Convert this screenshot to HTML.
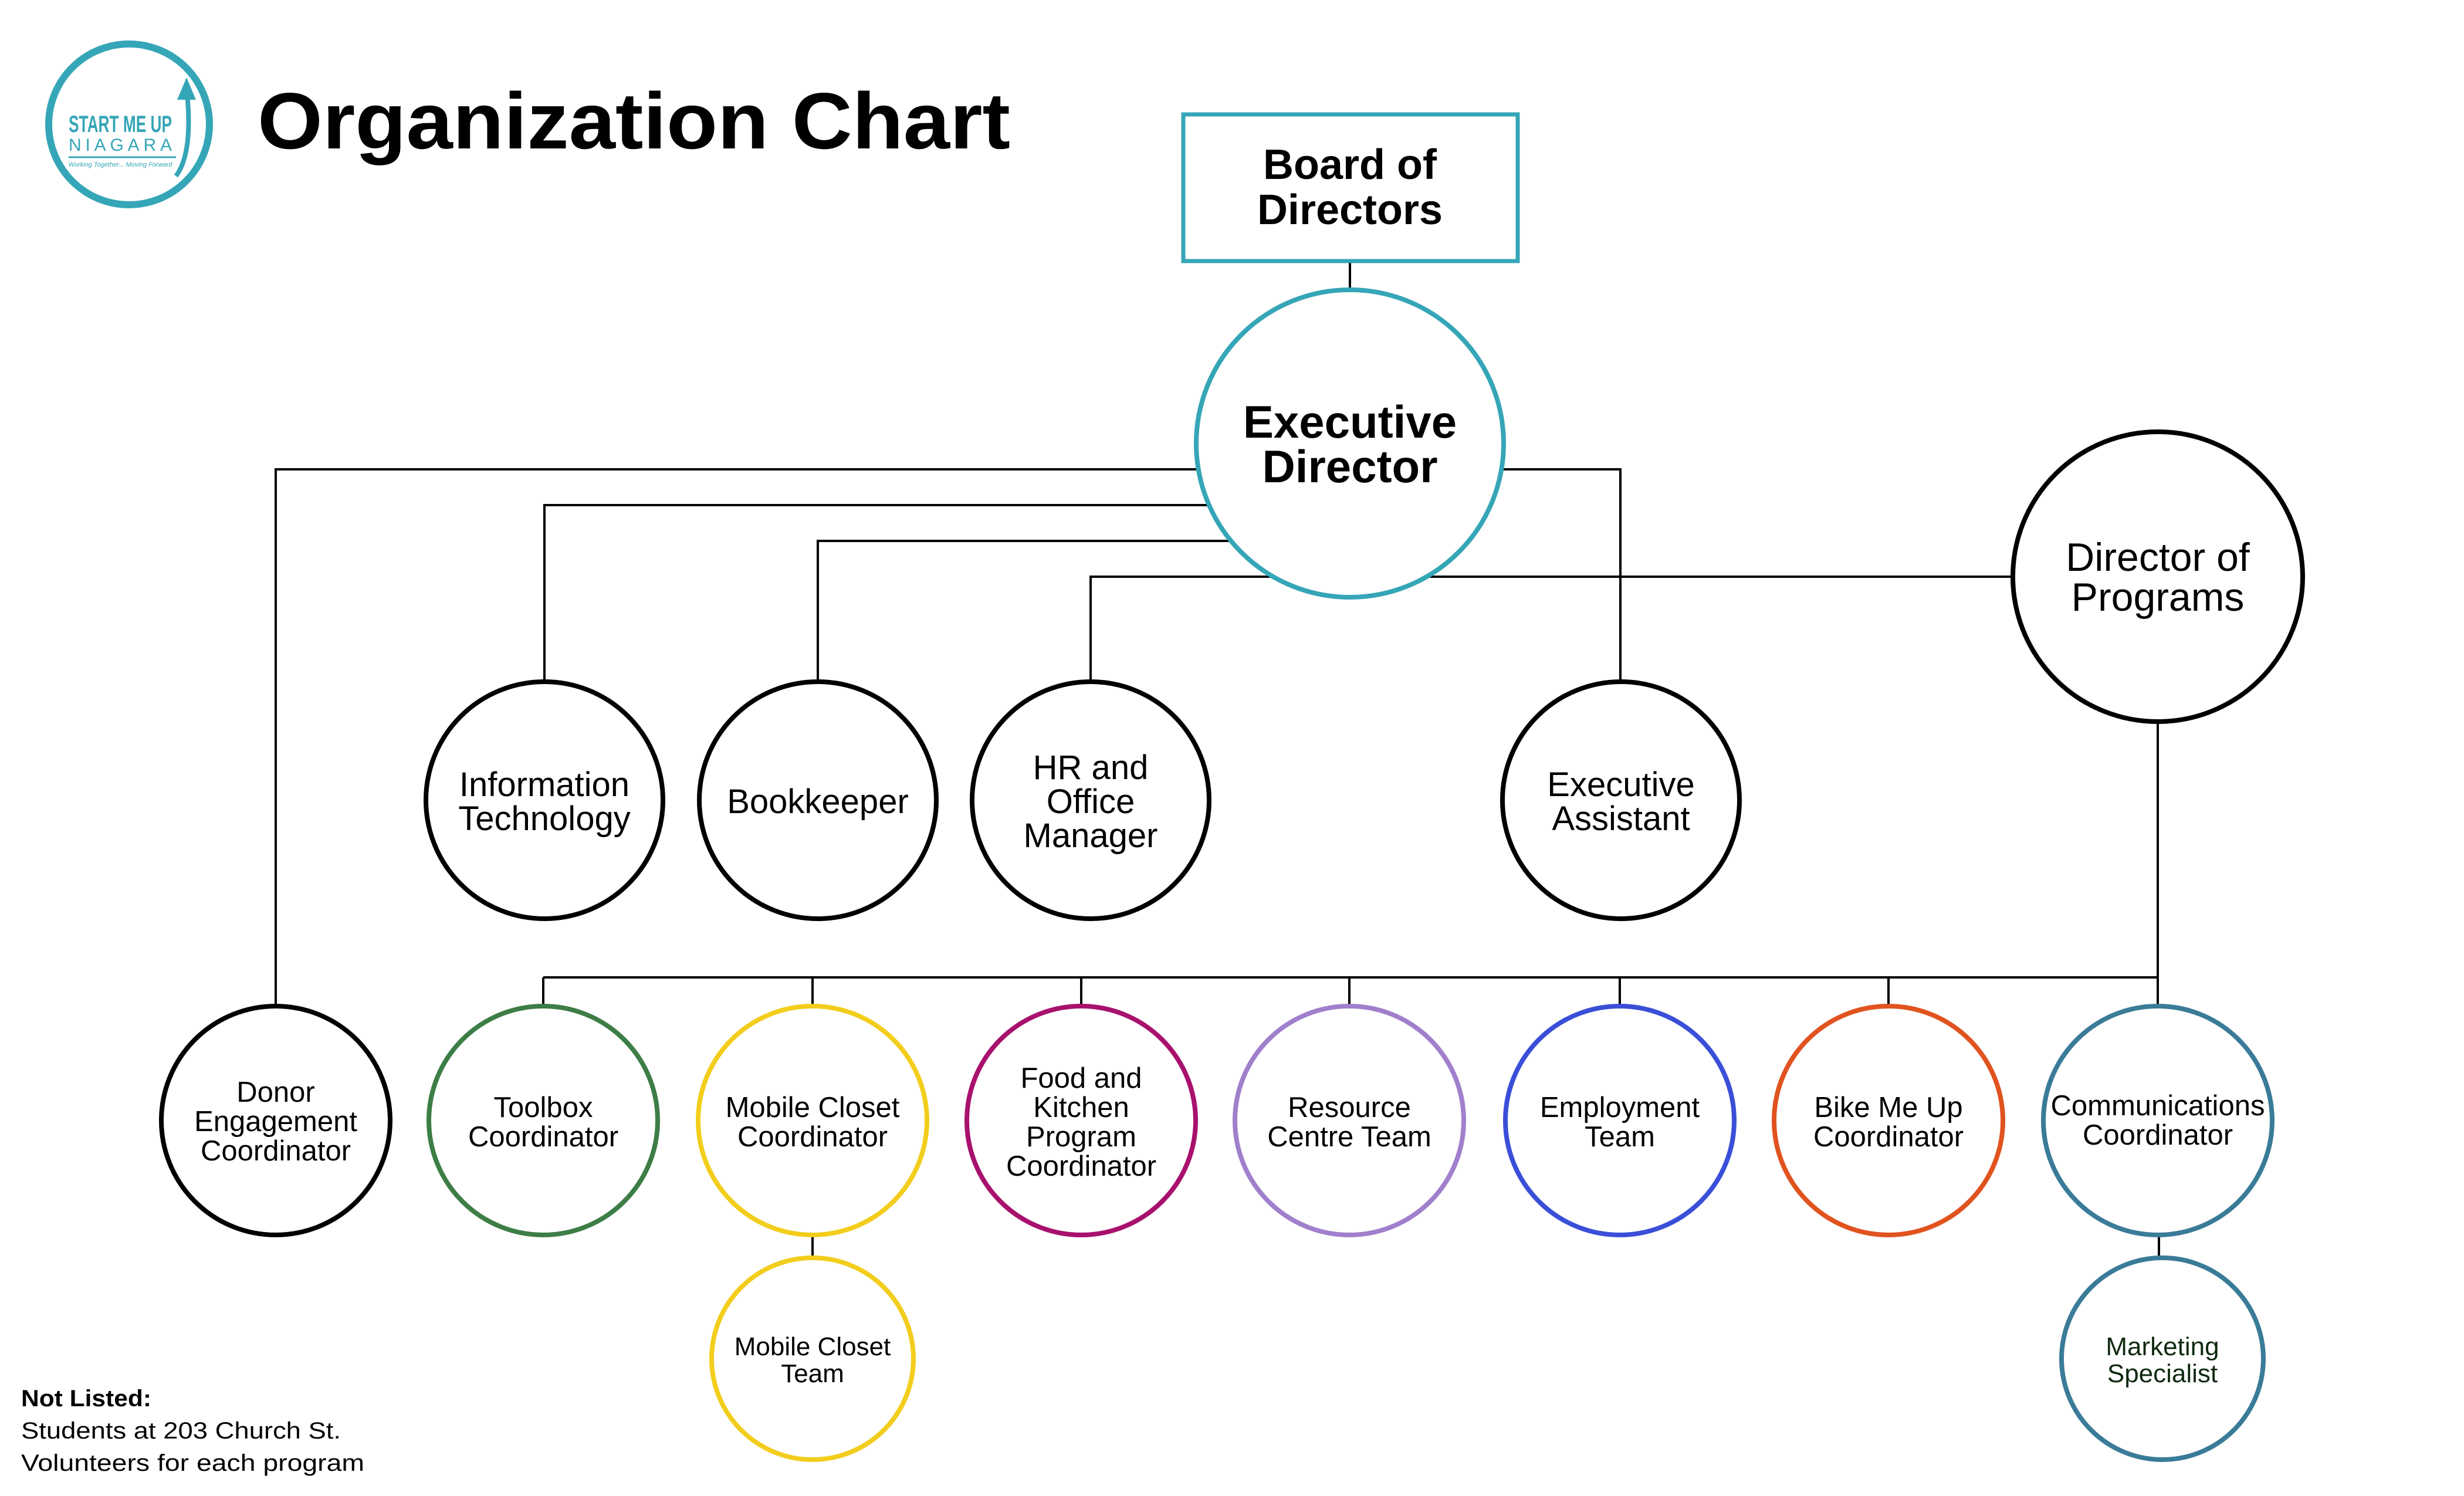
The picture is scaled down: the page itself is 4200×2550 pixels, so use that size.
<!DOCTYPE html>
<html><head><meta charset="utf-8"><style>
html,body{margin:0;padding:0;background:#fff;}
svg{display:block;}
text{font-family:"Liberation Sans",sans-serif;fill:#000;text-anchor:middle;}
</style></head><body>
<svg width="4200" height="2550" viewBox="0 0 4200 2550" xmlns="http://www.w3.org/2000/svg">
<circle cx="220" cy="212" r="137" fill="none" stroke="#35a6b7" stroke-width="12"/>
<path d="M300 300 Q330 260 318 150" fill="none" stroke="#35a6b7" stroke-width="8"/>
<polygon points="318,132 302,170 334,170" fill="#35a6b7"/>
<text x="205" y="225" font-size="40" font-weight="bold" style="fill:#35a6b7" textLength="176" lengthAdjust="spacingAndGlyphs">START ME UP</text>
<text x="205" y="257" font-size="30" style="fill:#35a6b7" textLength="176" lengthAdjust="spacing">NIAGARA</text>
<line x1="117" y1="268" x2="300" y2="268" stroke="#35a6b7" stroke-width="3"/>
<text x="205" y="284" font-size="11" font-style="italic" style="fill:#35a6b7">Working Together... Moving Forward</text>
<text x="439" y="253" font-size="136" font-weight="bold" style="text-anchor:start" textLength="1283" lengthAdjust="spacingAndGlyphs">Organization Chart</text>

<g stroke="#000" stroke-width="4" fill="none">
<line x1="2301" y1="447" x2="2301" y2="500"/>
<polyline points="2301,800 470,800 470,1713"/>
<polyline points="2301,861 928,861 928,1160"/>
<polyline points="2301,922 1394,922 1394,1160"/>
<polyline points="2301,983 1859,983 1859,1160"/>
<line x1="1859" y1="983" x2="3431" y2="983"/>
<polyline points="2301,800 2762,800 2762,1160"/>
<polyline points="3678,1231 3678,1713"/>
<line x1="926" y1="1666" x2="3678" y2="1666"/>
<line x1="926" y1="1666" x2="926" y2="1713"/>
<line x1="1385" y1="1666" x2="1385" y2="1713"/>
<line x1="1843" y1="1666" x2="1843" y2="1713"/>
<line x1="2300" y1="1666" x2="2300" y2="1713"/>
<line x1="2761" y1="1666" x2="2761" y2="1713"/>
<line x1="3219" y1="1666" x2="3219" y2="1713"/>
<line x1="1385" y1="2106" x2="1385" y2="2142"/>
<line x1="3680" y1="2106" x2="3680" y2="2142"/>
</g>

<rect x="2017" y="195" width="570" height="250" fill="#fff" stroke="#35a6b7" stroke-width="7"/>
<text x="2301" y="305" font-size="72" font-weight="bold">Board of</text>
<text x="2301" y="382" font-size="72" font-weight="bold">Directors</text>

<circle cx="2301" cy="756" r="262" fill="#fff" stroke="#35a6b7" stroke-width="8"/>
<text x="2301" y="746" font-size="78" font-weight="bold">Executive</text>
<text x="2301" y="822" font-size="78" font-weight="bold">Director</text>

<g fill="#fff" stroke="#000" stroke-width="8">
<circle cx="928" cy="1364" r="202"/>
<circle cx="1394" cy="1364" r="202"/>
<circle cx="1859" cy="1364" r="202"/>
<circle cx="2763" cy="1364" r="202"/>
<circle cx="3678" cy="983" r="247"/>
<circle cx="470" cy="1910" r="195"/>
</g>
<g font-size="58">
<text x="928" y="1357">Information</text><text x="928" y="1415">Technology</text>
<text x="1394" y="1386">Bookkeeper</text>
<text x="1859" y="1328">HR and</text><text x="1859" y="1386">Office</text><text x="1859" y="1444">Manager</text>
<text x="2763" y="1357">Executive</text><text x="2763" y="1415">Assistant</text>
</g>
<text x="3678" y="973" font-size="68">Director of</text>
<text x="3678" y="1041" font-size="68">Programs</text>

<g fill="#fff" stroke-width="8">
<circle cx="926" cy="1910" r="195" stroke="#3d7d46"/>
<circle cx="1385" cy="1910" r="195" stroke="#f2cd1c"/>
<circle cx="1843" cy="1910" r="195" stroke="#a8116d"/>
<circle cx="2300" cy="1910" r="195" stroke="#a07fcc"/>
<circle cx="2761" cy="1910" r="195" stroke="#3a4fd8"/>
<circle cx="3219" cy="1910" r="195" stroke="#e0531f"/>
<circle cx="3678" cy="1910" r="195" stroke="#3a7b98"/>
<circle cx="1385" cy="2316" r="172" stroke="#f2cd1c"/>
<circle cx="3686" cy="2316" r="172" stroke="#3a7b98"/>
</g>
<g font-size="49">
<text x="470" y="1878">Donor</text><text x="470" y="1928">Engagement</text><text x="470" y="1978">Coordinator</text>
<text x="926" y="1904">Toolbox</text><text x="926" y="1954">Coordinator</text>
<text x="1385" y="1904">Mobile Closet</text><text x="1385" y="1954">Coordinator</text>
<text x="1843" y="1854">Food and</text><text x="1843" y="1904">Kitchen</text><text x="1843" y="1954">Program</text><text x="1843" y="2004">Coordinator</text>
<text x="2300" y="1904">Resource</text><text x="2300" y="1954">Centre Team</text>
<text x="2761" y="1904">Employment</text><text x="2761" y="1954">Team</text>
<text x="3219" y="1904">Bike Me Up</text><text x="3219" y="1954">Coordinator</text>
<text x="3678" y="1901">Communications</text><text x="3678" y="1951">Coordinator</text>
</g>
<g font-size="44">
<text x="1385" y="2310">Mobile Closet</text><text x="1385" y="2356">Team</text>
<text x="3686" y="2310" style="fill:#102a10">Marketing</text><text x="3686" y="2356" style="fill:#102a10">Specialist</text>
</g>

<g font-size="40">
<text x="36" y="2397" font-weight="bold" style="text-anchor:start" textLength="222" lengthAdjust="spacingAndGlyphs">Not Listed:</text>
<text x="36" y="2452" style="text-anchor:start" textLength="545" lengthAdjust="spacingAndGlyphs">Students at 203 Church St.</text>
<text x="36" y="2507" style="text-anchor:start" textLength="585" lengthAdjust="spacingAndGlyphs">Volunteers for each program</text>
</g>
</svg>
</body></html>
